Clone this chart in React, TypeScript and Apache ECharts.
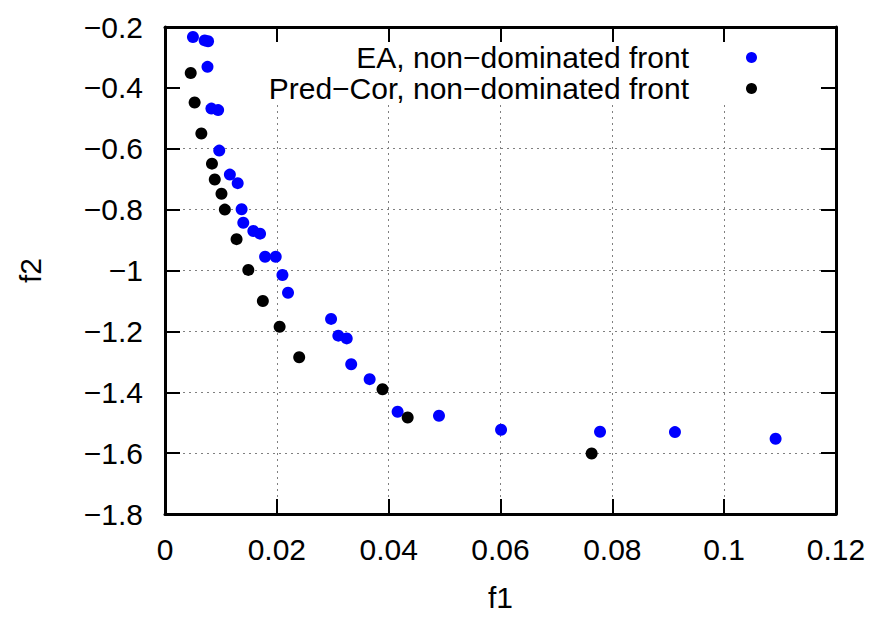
import React, { useEffect, useRef } from "react";
import * as echarts from "echarts";

const seriesNames = ["EA, non\u2212dominated front", "Pred\u2212Cor, non\u2212dominated front"];

const eaF1 = [0.005, 0.0071, 0.0077, 0.0076, 0.0083, 0.0095, 0.0097, 0.0116, 0.013, 0.0137, 0.014, 0.0158, 0.017, 0.0179, 0.0198, 0.021, 0.022, 0.0297, 0.031, 0.0325, 0.0333, 0.0366, 0.0416, 0.049, 0.0601, 0.0778, 0.0912, 0.1092];
const eaF2 = [-0.233, -0.244, -0.247, -0.331, -0.468, -0.473, -0.606, -0.685, -0.713, -0.799, -0.843, -0.87, -0.879, -0.955, -0.955, -1.015, -1.073, -1.159, -1.214, -1.223, -1.308, -1.357, -1.464, -1.477, -1.523, -1.53, -1.531, -1.553];

const pcF1 = [0.0046, 0.0053, 0.0065, 0.0084, 0.0089, 0.0101, 0.0107, 0.0128, 0.0149, 0.0175, 0.0205, 0.024, 0.0389, 0.0434, 0.0763];
const pcF2 = [-0.351, -0.448, -0.55, -0.649, -0.701, -0.748, -0.8, -0.897, -0.998, -1.1, -1.185, -1.285, -1.39, -1.483, -1.601];

const xMin = 0, xMax = 0.12, xStep = 0.02;
const yMin = -1.8, yMax = -0.2, yStep = 0.2;

const FONT = "Liberation Sans, Arial, Helvetica, sans-serif";

export default function App() {
  const ref = useRef<HTMLDivElement>(null);
  useEffect(() => {
    if (!ref.current) return;
    const chart = echarts.init(ref.current, null, { renderer: "svg" });
    const gridLeft = 165, gridTop = 27, gridRight = 42, gridBottom = 102;
    const tickStyle = { show: true, inside: true, length: 15, lineStyle: { color: "#000", width: 2 } };
    const lineStyle = { show: true, onZero: false, lineStyle: { color: "#000", width: 3 } };
    const labelStyle = { fontSize: 30, fontFamily: FONT, color: "#000" };
    const minus = (v: number) => String(v).replace("-", "\u2212");
    const gridLine = { show: true, lineStyle: { color: "#808080", width: 1, type: [2, 4] as any } };

    chart.setOption({
      animation: false,
      backgroundColor: "#fff",
      grid: { left: gridLeft, top: gridTop, right: gridRight, bottom: gridBottom, containLabel: false },
      xAxis: [
        {
          type: "value", position: "bottom", min: xMin, max: xMax, interval: xStep, z: 3,
          axisLine: lineStyle, axisTick: tickStyle, splitLine: { show: false },
          axisLabel: { ...labelStyle, margin: 20, formatter: minus },
          name: "f1", nameLocation: "middle", nameGap: 68,
          nameTextStyle: { fontSize: 30, fontFamily: FONT, color: "#000" },
        },
        {
          type: "value", position: "top", min: xMin, max: xMax, interval: xStep, z: 3,
          axisLine: lineStyle, axisTick: tickStyle, splitLine: { show: false }, axisLabel: { show: false },
        },
        {
          type: "value", position: "bottom", min: xMin, max: xMax, interval: xStep, z: 0,
          axisLine: { show: false }, axisTick: { show: false }, axisLabel: { show: false }, splitLine: gridLine,
        },
      ],
      yAxis: [
        {
          type: "value", position: "left", min: yMin, max: yMax, interval: yStep, z: 3,
          axisLine: lineStyle, axisTick: tickStyle, splitLine: { show: false },
          axisLabel: { ...labelStyle, margin: 22, formatter: minus },
          name: "f2", nameLocation: "middle", nameGap: 120,
          nameTextStyle: { fontSize: 30, fontFamily: FONT, color: "#000" },
        },
        {
          type: "value", position: "right", min: yMin, max: yMax, interval: yStep, z: 3,
          axisLine: lineStyle, axisTick: tickStyle, splitLine: { show: false }, axisLabel: { show: false },
        },
        {
          type: "value", position: "left", min: yMin, max: yMax, interval: yStep, z: 0,
          axisLine: { show: false }, axisTick: { show: false }, axisLabel: { show: false }, splitLine: gridLine,
        },
      ],
      graphic: [
        {
          type: "rect", z: 1, silent: true,
          shape: { x: gridLeft + 1, y: gridTop + 1, width: 878 - gridLeft - gridRight - 2, height: 75 },
          style: { fill: "#fff" },
        },
      ],
      legend: {
        orient: "vertical", align: "right", right: 121, top: 42, padding: 0, itemGap: 0,
        itemWidth: 11, itemHeight: 11, icon: "circle",
        textStyle: { fontSize: 30, fontFamily: FONT, color: "#000", lineHeight: 31, padding: [0, 52, 0, 0] },
        data: seriesNames,
      },
      series: [
        {
          name: seriesNames[0], type: "scatter", xAxisIndex: 0, yAxisIndex: 0, z: 2,
          symbol: "circle", symbolSize: 12, itemStyle: { color: "#0000ff", opacity: 1 },
          data: eaF1.map((x, i) => [x, eaF2[i]]),
        },
        {
          name: seriesNames[1], type: "scatter", xAxisIndex: 0, yAxisIndex: 0, z: 2,
          symbol: "circle", symbolSize: 12, itemStyle: { color: "#000000", opacity: 1 },
          data: pcF1.map((x, i) => [x, pcF2[i]]),
        },
      ],
    });
    return () => chart.dispose();
  }, []);
  return <div ref={ref} style={{ position: "fixed", left: 0, top: 0, width: 878, height: 617 }} />;
}
